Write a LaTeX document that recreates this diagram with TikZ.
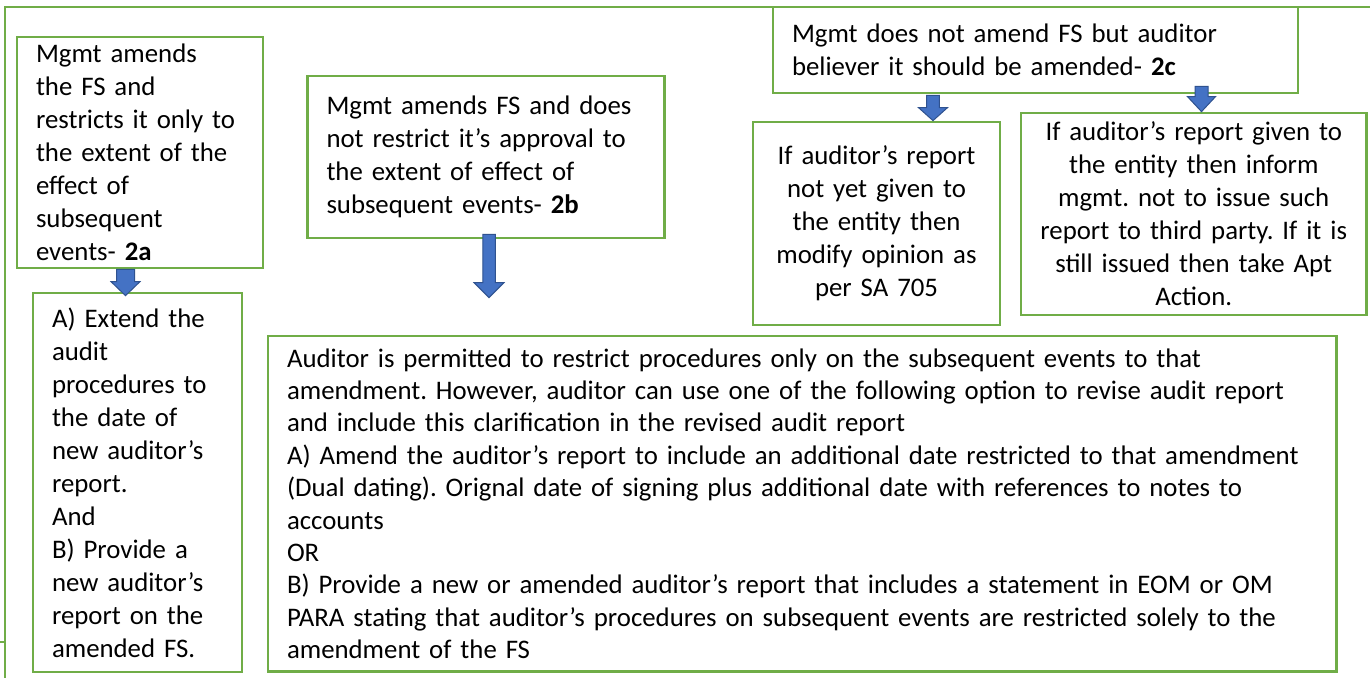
\documentclass[tikz,border=0pt]{standalone}
\usepackage{fontspec}
\setmainfont{Carlito}
\frenchspacing
\usetikzlibrary{calc}
\definecolor{boxgreen}{HTML}{70AD47}
\definecolor{arrowfill}{HTML}{4472C4}
\definecolor{arrowline}{HTML}{2F528F}
\tikzset{
  box/.style={draw=boxgreen, line width=2.75pt, rectangle, inner xsep=19pt,
    inner ysep=0pt, font=\fontsize{26.8}{33}\selectfont, text=black},
  leftbox/.style={box, align=left},
  midbox/.style={box, align=center},
  frameline/.style={draw=boxgreen, line width=2pt},
  barrow/.style={fill=arrowfill, draw=arrowline, line width=1pt, line join=miter},
}
% block arrow: #1 top of shaft, #2 point level with the tip,
% #3 shaft half width, #4 head half width, #5 head length (pt)
\newcommand\blockarrow[5]{%
  \path[barrow] let \p1=#1, \p2=#2 in
    (\x1-#3pt,\y1) -- (\x1+#3pt,\y1) -- (\x1+#3pt,\y2+#5pt) -- (\x1+#4pt,\y2+#5pt)
    -- (\x1,\y2) -- (\x1-#4pt,\y2+#5pt) -- (\x1-#3pt,\y2+#5pt) -- cycle;}
\begin{document}
\begin{tikzpicture}[x=1pt,y=-1pt]
\useasboundingbox (0,0) rectangle (1370,677);
\fill[white] (0,0) rectangle (1370,677);

% outer frame
\draw[frameline] (1372,7) -- (5,7) -- (5,679);
\draw[frameline] (0,642) -- (5,642);

% case 2a
\node[leftbox, minimum width=246pt, minimum height=231pt, text width=208pt] (b2a) at (140,152.5)
  {Mgmt amends\\the FS and\\restricts it only to\\the extent of the\\effect of\\subsequent\\events- \textbf{2a}};
\node[leftbox, minimum width=209pt, minimum height=379pt, text width=171pt] (bA) at (137.5,482.5)
  {A) Extend the\\audit\\procedures to\\the date of\\new auditor’s\\report.\\And\\B) Provide a\\new auditor’s\\report on the\\amended FS.};

% case 2b
\node[leftbox, minimum width=357pt, minimum height=162pt, text width=319pt] (b2b) at (486,157)
  {Mgmt amends FS and does\\not restrict it’s approval to\\the extent of effect of\\subsequent events- \textbf{2b}};
\node[leftbox, minimum width=1068.5pt, minimum height=335.5pt, text width=1030.5pt,
  font=\fontsize{26.8}{32.4}\selectfont] (bBig) at (802.25,503.75)
  {Auditor is permitted to restrict procedures only on the subsequent events to that\\
   amendment. However, auditor can use one of the following option to revise audit report\\
   and include this clarification in the revised audit report\\
   A) Amend the auditor’s report to include an additional date restricted to that amendment\\
   (Dual dating). Orignal date of signing plus additional date with references to notes to\\
   accounts\\
   OR\\
   B) Provide a new or amended auditor’s report that includes a statement in EOM or OM\\
   PARA stating that auditor’s procedures on subsequent events are restricted solely to the\\
   amendment of the FS};

% case 2c
\node[leftbox, minimum width=525pt, minimum height=86pt, text width=487pt] (b2c) at (1035.5,50)
  {Mgmt does not amend FS but auditor\\believer it should be amended- \textbf{2c}};
\node[midbox, minimum width=247pt, minimum height=203pt, text width=209pt] (bNY) at (876.5,223.5)
  {If auditor’s report\\not yet given to\\the entity then\\modify opinion as\\per SA 705};
\node[midbox, minimum width=345.5pt, minimum height=202pt, text width=307.5pt] (bGiven) at (1193.75,214)
  {If auditor’s report given to\\the entity then inform\\mgmt. not to issue such\\report to third party. If it is\\still issued then take Apt\\Action.};

% arrows
\blockarrow{([xshift=-14.5pt]b2a.south)}{([yshift=-4pt]bA.north)}{9}{14.5}{14}
\blockarrow{([xshift=3pt,yshift=5pt]b2b.south)}{([yshift=37pt]bBig.north)}{6.25}{15}{15}
\blockarrow{([xshift=-102.5pt,yshift=-1pt]b2c.south)}{(bNY.north)}{6.3}{14.5}{13}
\blockarrow{([xshift=166pt,yshift=8pt]b2c.south)}{(bGiven.north)}{6.5}{14}{15}
\end{tikzpicture}
\end{document}
